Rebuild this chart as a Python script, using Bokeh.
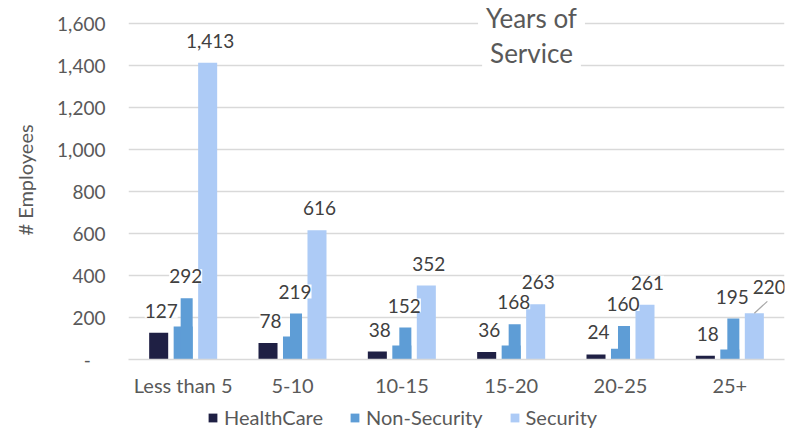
from bokeh.plotting import figure
from bokeh.layouts import column
from bokeh.models import (ColumnDataSource, FactorRange, Range1d, LabelSet, Label, Legend,
                          LegendItem, CustomJSTickFormatter, FixedTicker)
from bokeh.core.properties import value
from bokeh.transform import dodge
from bokeh.embed import file_html
from bokeh.resources import INLINE

# ---- data ----
categories = ["Less than 5", "5-10", "10-15", "15-20", "20-25", "25+"]
healthcare = [127, 78, 38, 36, 24, 18]
non_security = [292, 219, 152, 168, 160, 195]
non_security_step = [157, 110, 67, 67, 51, 48]   # lower step visible inside the Non-Security bars
security = [1413, 616, 352, 263, 261, 220]
y_ticks = [0, 200, 400, 600, 800, 1000, 1200, 1400, 1600]
series_names = ["HealthCare", "Non-Security", "Security"]
title_lines = ["Years of", "Service"]
y_title = "# Employees"

# ---- style ----
C_HC = "#1f2044"
C_NS = "#5e9dd6"
C_SEC = "#adcbf6"
COLORS = [C_HC, C_NS, C_SEC]
GRID = "#d9d9d9"
TXT = "#595959"
LBL = "#404040"
FONT = "Lato"
FS = "19px"
FS2 = "20px"
OFF = 0.224
W = 0.174
HI_FRAC = 12 / 19
FRAME_H = 359            # plot frame height in px (top of canvas to axis line)
PX_PER_UNIT = 336 / 1600  # 1,600 gridline sits 23px below the canvas top

n = len(categories)
src = ColumnDataSource(dict(
    cat=categories,
    hc=healthcare, ns=non_security, ns_low=non_security_step, sec=security,
    hc_txt=[f"{v:,}" for v in healthcare],
    ns_txt=[f"{v:,}" for v in non_security],
    sec_txt=[f"{v:,}" for v in security],
    sec_dx=[2.5] * (n - 1) + [15],
    sec_dy=[22] * (n - 1) + [26],
))

p = figure(x_range=FactorRange(factors=categories, range_padding=0),
           y_range=Range1d(0, FRAME_H / PX_PER_UNIT),
           width=789, height=402, output_backend="svg", toolbar_location=None,
           min_border_left=128, min_border_right=5, min_border_top=0, min_border_bottom=43)
p.outline_line_color = None
p.background_fill_color = "white"

p.vbar(x=dodge("cat", -OFF, range=p.x_range), top="hc", width=W, source=src,
       fill_color=C_HC, line_color=None)
p.vbar(x=dodge("cat", 0, range=p.x_range), top="ns_low", width=W, source=src,
       fill_color=C_NS, line_color=None)
p.vbar(x=dodge("cat", W * (1 - HI_FRAC) / 2, range=p.x_range), top="ns", width=W * HI_FRAC,
       source=src, fill_color=C_NS, line_color=None)
p.vbar(x=dodge("cat", OFF, range=p.x_range), top="sec", width=W, source=src,
       fill_color=C_SEC, line_color=None)

# leader line for the last Security label
last = ColumnDataSource(dict(cat=[categories[-1]], y0=[security[-1]], y1=[security[-1] + 57]))
p.segment(x0=dodge("cat", OFF, range=p.x_range), y0="y0",
          x1=dodge("cat", OFF + 0.119, range=p.x_range), y1="y1",
          source=last, line_color="#a6a6a6", line_width=1.2)

common = dict(source=src, text_font=value(FONT), text_font_size=value(FS), text_color=LBL,
              text_align="center", text_baseline="middle",
              background_fill_color="white", level="annotation")
p.add_layout(LabelSet(x=dodge("cat", -OFF, range=p.x_range), y="hc", text="hc_txt",
                      x_offset=2.5, y_offset=22, **common))
p.add_layout(LabelSet(x=dodge("cat", 0, range=p.x_range), y="ns", text="ns_txt",
                      x_offset=2.5, y_offset=22, **common))
p.add_layout(LabelSet(x=dodge("cat", OFF, range=p.x_range), y="sec", text="sec_txt",
                      x_offset="sec_dx", y_offset="sec_dy", **common))

# axes
p.yaxis.ticker = FixedTicker(ticks=y_ticks)
p.yaxis.formatter = CustomJSTickFormatter(
    code="return tick == 0 ? '-\\u00a0\\u00a0\\u00a0' : tick.toLocaleString('en-US');")
p.yaxis.axis_line_color = None
p.yaxis.major_tick_line_color = None
p.yaxis.minor_tick_line_color = None
p.yaxis.major_label_standoff = 17
p.yaxis.major_label_text_font = FONT
p.yaxis.major_label_text_font_size = FS
p.yaxis.major_label_text_color = TXT
p.yaxis.axis_label = y_title
p.yaxis.axis_label_text_font = FONT
p.yaxis.axis_label_text_font_size = FS2
p.yaxis.axis_label_text_font_style = "normal"
p.yaxis.axis_label_text_color = TXT
p.yaxis.axis_label_standoff = 17

p.xaxis.axis_line_color = GRID
p.xaxis.axis_line_width = 1.5
p.xaxis.major_tick_line_color = None
p.xaxis.minor_tick_line_color = None
p.xaxis.major_label_standoff = 7
p.xaxis.major_label_text_font = FONT
p.xaxis.major_label_text_font_size = FS2
p.xaxis.major_label_text_color = TXT

p.xgrid.visible = False
p.ygrid.grid_line_color = GRID
p.ygrid.grid_line_width = 1.3

# title inside the plot with white background; second line first so the first line sits on top
for txt, yy in reversed(list(zip(title_lines, [342, 307]))):
    p.add_layout(Label(x=403, y=yy, x_units="screen", y_units="screen", text=txt,
                       text_font=FONT, text_font_size="26px", text_color=TXT,
                       text_align="center", text_baseline="middle",
                       background_fill_color="white", padding=8))

# legend strip below the chart (frame aligned with the chart's frame)
pl = figure(width=789, height=31, x_range=Range1d(0, 1), y_range=Range1d(0, 1),
            output_backend="svg", toolbar_location=None,
            min_border_left=0, min_border_right=0, min_border_top=0, min_border_bottom=0)
pl.axis.visible = False
pl.grid.visible = False
pl.outline_line_color = None
items = []
for name, col in zip(series_names, COLORS):
    # swatch-only renderer with zero height (draws nothing itself)
    r = pl.vbar(x=[0.5], top=[0], bottom=[0], width=0.1, fill_color=col, line_color=None)
    items.append(LegendItem(label=name, renderers=[r]))
legend = Legend(items=items, location=(79, 4), orientation="horizontal", spacing=26,
                glyph_width=11, glyph_height=11, label_standoff=6, label_height=20,
                padding=0, margin=0, border_line_color=None, background_fill_alpha=0,
                label_text_font=FONT, label_text_font_size=FS2, label_text_color=TXT)
pl.add_layout(legend)

layout = column(p, pl, spacing=0)
open("out.html", "w").write(file_html(layout, INLINE))
